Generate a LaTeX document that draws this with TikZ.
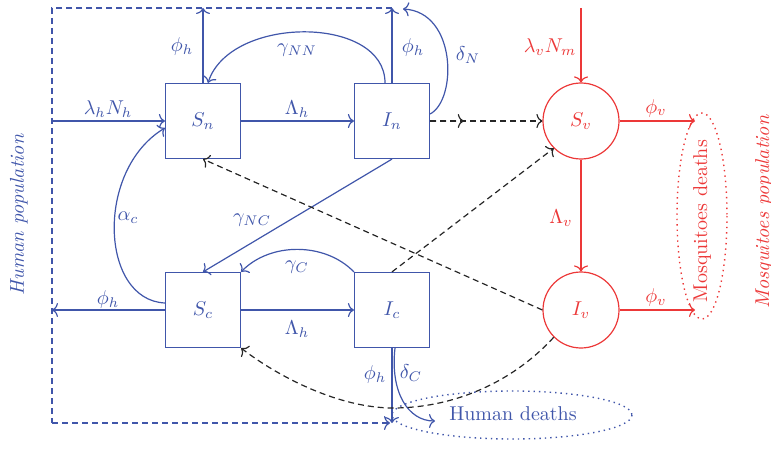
\documentclass[tikz,border=0pt]{standalone}
\usetikzlibrary{arrows.meta,calc}
\definecolor{hb}{RGB}{64,86,170}
\definecolor{mr}{RGB}{236,56,56}
\begin{document}
\begin{tikzpicture}[x=0.5pt,y=-0.5pt, line width=0.6pt,
 >={To[length=3pt,width=7pt]},
 hbox/.style={draw=hb, minimum size=37.5pt, inner sep=0pt, text=hb},
 vcirc/.style={draw=mr, circle, minimum size=38pt, inner sep=0pt, text=mr},
 hflow/.style={draw=hb,->},
 hdash/.style={draw=hb,dash pattern=on 3pt off 2pt},
 vflow/.style={draw=mr,->},
 inf/.style={draw=black!85, dash pattern=on 3pt off 2pt, ->},
 hlab/.style={text=hb, inner sep=1pt},
 vlab/.style={text=mr, inner sep=1pt}]
\useasboundingbox (0,0) rectangle (771,449);

% compartments
\node[hbox] (Sn) at (203,121) {$S_n$};
\node[hbox] (In) at (392,121) {$I_n$};
\node[hbox] (Sc) at (203,310) {$S_c$};
\node[hbox] (Ic) at (392,310) {$I_c$};
\node[vcirc] (Sv) at (581,121) {$S_v$};
\node[vcirc] (Iv) at (581,310) {$I_v$};

% auxiliary points
\coordinate (tl) at (52,8);
\coordinate (bl) at (52,423);
\coordinate (tn) at (203,8);
\coordinate (ti) at (392,8);
\coordinate (br) at (390,423);
\coordinate (bi) at (392,423);
\coordinate (lin) at (52,121);
\coordinate (lout) at (52,310);
\coordinate (dn) at (403,9);
\coordinate (dc) at (435,421);
\coordinate (vin) at (581,8);
\coordinate (vo1) at (695,121);
\coordinate (vo2) at (695,310);
\coordinate (low) at (393,408);

% human population frame
\draw[hdash] (ti) -- (tl) -- (bl);
\draw[hdash,->] (bl) -- (br);

% human flows
\draw[hflow] (lin) -- (Sn.west);
\draw[hflow] (Sc.west) -- (lout);
\draw[hflow] (Sn.north) -- (tn);
\draw[hflow] (In.north) -- (ti);
\draw[hflow] (Sn.east) -- (In.west);
\draw[hflow] (Sc.east) -- (Ic.west);
\draw[hflow] (In.south) -- (Sc.north);
\draw[hflow] (Ic.south) -- (bi);
\draw[hflow] ($(In.north)+(-7,0)$) .. controls (385,15) and (230,15) .. ($(Sn.north)+(5,0)$);
\draw[hflow] ($(In.east)+(0,-7)$) .. controls (457,100) and (457,12) .. (dn);
\draw[hflow] (Ic.north west) .. controls (325,242) and (270,242) .. (Sc.north east);
\draw[hflow] ($(Sc.west)+(0,-7)$) .. controls (100,300) and (95,170) .. ($(Sn.west)+(0,7)$);
\draw[hflow] ($(Ic.south)+(3,0)$) .. controls (390,392) and (408,421) .. (dc);

% mosquito flows
\draw[vflow] (vin) -- (Sv.north);
\draw[vflow] (Sv.south) -- (Iv.north);
\draw[vflow] (Sv.east) -- (vo1);
\draw[vflow] (Iv.east) -- (vo2);

% infection links
\draw[inf] (In.east) -- ($(In.east)!0.3!(Sv.west)$);
\draw[inf] (In.east) -- (Sv.west);
\draw[inf] (Ic.north) -- (Sv.225);
\draw[inf] (Iv.west) -- (Sn.south);
\draw[inf] (Iv.225) .. controls (510,385) and (450,408) .. (low)
  .. controls (340,408) and (280,378) .. (Sc.south east);

% death pools
\draw[hb, dotted, line width=0.7pt] (512,415) ellipse [x radius=120, y radius=24];
\node[hlab] (hd) at (513,414) {Human deaths};
\draw[mr, dotted, line width=0.7pt] (702,216) ellipse [x radius=25, y radius=103];
\node[vlab, rotate=90] (md) at (702,221) {Mosquitoes deaths};

% population labels
\node[hlab, rotate=90] (hp) at (19,215) {\itshape Human population};
\node[vlab, rotate=90] (mp) at (764,212) {\itshape Mosquitoes population};

% rate labels
\node[hlab] (l1) at (182,47) {$\phi_h$};
\node[hlab] (l2) at (297,50) {$\gamma_{NN}$};
\node[hlab] (l3) at (413,48) {$\phi_h$};
\node[hlab] (l4) at (468,55) {$\delta_N$};
\node[hlab] (l5) at (108,109) {$\lambda_h N_h$};
\node[hlab] (l6) at (297,109) {$\Lambda_h$};
\node[hlab] (l7) at (128,218) {$\alpha_c$};
\node[hlab] (l8) at (252,220) {$\gamma_{NC}$};
\node[hlab] (l9) at (108,299) {$\phi_h$};
\node[hlab] (l10) at (297,267) {$\gamma_C$};
\node[hlab] (l11) at (297,329) {$\Lambda_h$};
\node[hlab] (l12) at (375,374) {$\phi_h$};
\node[hlab] (l13) at (411,373) {$\delta_C$};
\node[vlab] (l14) at (550,47) {$\lambda_v N_m$};
\node[vlab] (l15) at (656,108) {$\phi_v$};
\node[vlab] (l16) at (561,218) {$\Lambda_v$};
\node[vlab] (l17) at (656,297) {$\phi_v$};
\end{tikzpicture}
\end{document}
